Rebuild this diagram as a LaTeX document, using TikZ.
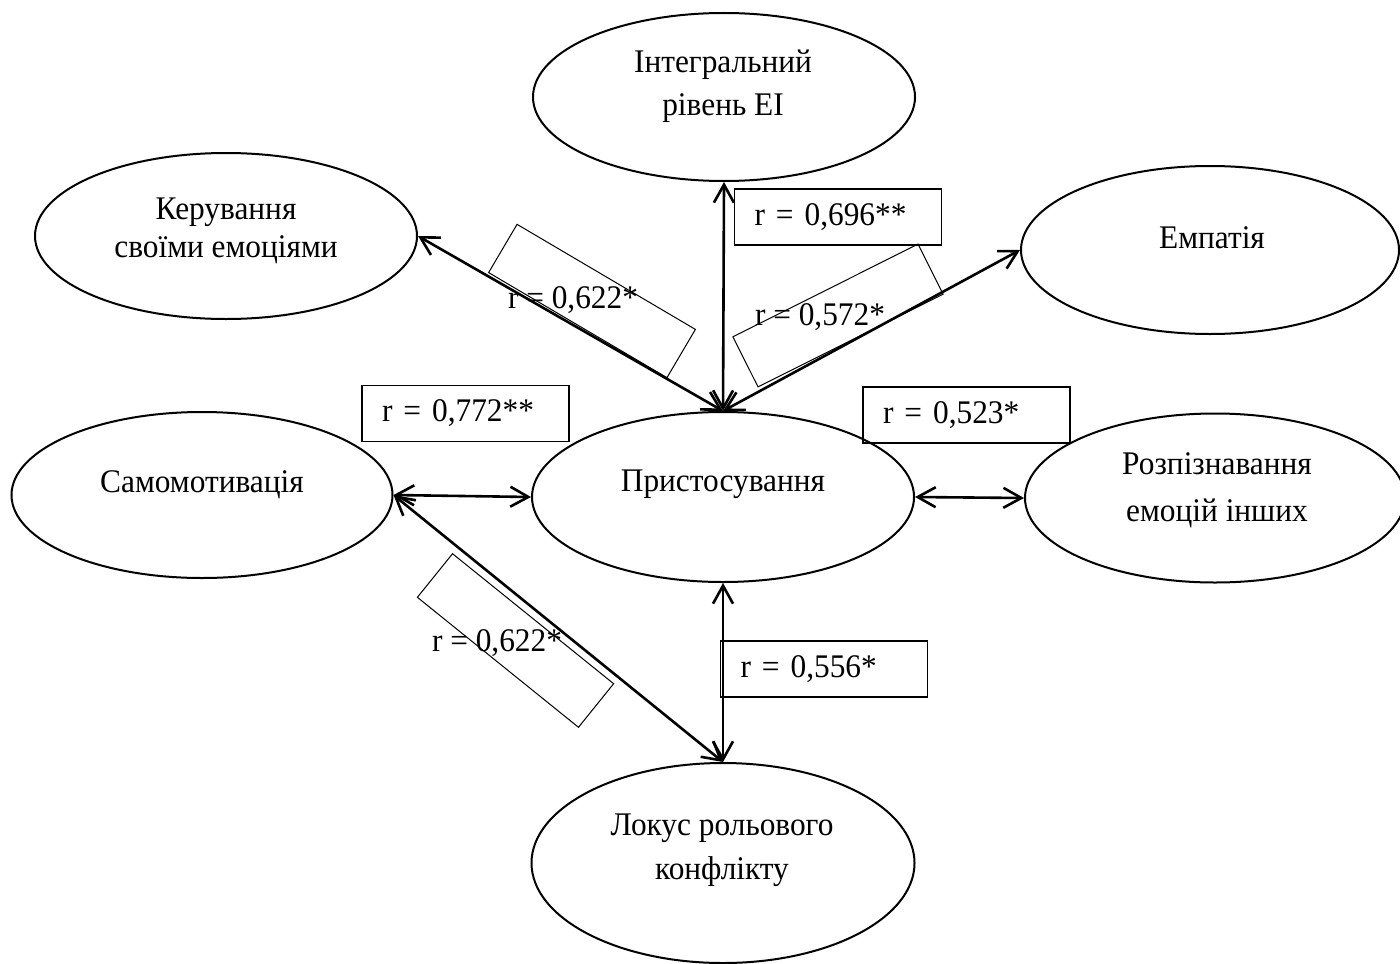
\documentclass[tikz,border=0pt]{standalone}
\usepackage{fontspec}
\setmainfont{Liberation Serif}[FakeStretch=0.95]
\usetikzlibrary{shapes.geometric,arrows.meta}
\begin{document}
\begin{tikzpicture}[x=0.5pt,y=-0.5pt,
  ell/.style={draw, ellipse, line width=1pt, inner sep=0pt},
  txt/.style={align=center, inner sep=0pt},
  rbox/.style={draw, line width=0.65pt, minimum width=103.5pt, minimum height=28pt,
    text width=83.5pt, align=left, inner xsep=10pt, inner ysep=0pt},
  tbox/.style={draw, line width=0.5pt, minimum width=103.5pt, minimum height=28pt, inner sep=0pt},
  conn/.style={line width=1.3pt, {Straight Barb[length=9pt,width=10pt]}-{Straight Barb[length=9pt,width=10pt]}},
  lbl/.style={inner sep=0pt},
  every node/.append style={font=\fontsize{16.5}{21.5}\selectfont}
]
\useasboundingbox (0,0) rectangle (1400,963);

% ellipses
\node[ell, minimum width=191pt, minimum height=84pt] (eint) at (724,97) {};
\node[ell, minimum width=191pt, minimum height=83pt] (eker) at (226,236) {};
\node[ell, minimum width=189pt, minimum height=84pt] (eemp) at (1210,250) {};
\node[ell, minimum width=190.5pt, minimum height=83pt] (esam) at (202,495) {};
\node[ell, minimum width=191pt, minimum height=85pt] (epri) at (723,497) {};
\node[ell, minimum width=190pt, minimum height=84.5pt] (eroz) at (1215,498) {};
\node[ell, minimum width=191.5pt, minimum height=100pt] (elok) at (723,863) {};

% ellipse texts
\node[txt, font=\fontsize{16.5}{21.5}\selectfont] (tint) at (723,86) {Інтегральний\\рівень ЕІ};
\node[txt, font=\fontsize{16.5}{18.7}\selectfont] (tker) at (226,231) {Керування\\своїми емоціями};
\node[txt] (temp) at (1212,238) {Емпатія};
\node[txt] (tsam) at (202,485) {Самомотивація};
\node[txt] (tpri) at (723,484) {Пристосування};
\node[txt, font=\fontsize{16.5}{23.5}\selectfont] (troz) at (1217,490) {Розпізнавання\\емоцій інших};
\node[txt, font=\fontsize{16.5}{22}\selectfont] (tlok) at (722,850) {Локус рольового\\конфлікту};

% coefficient boxes
\node[rbox] (b696) at (838,217) {r = 0,696**};
\node[rbox] (b772) at (465.5,413.5) {r = 0,772**};
\node[rbox] (b523) at (966.5,415) {r = 0,523*};
\node[rbox] (b556) at (824,669) {r = 0,556*};

% rotated boxes
\node[tbox, rotate=-30.5] (bx1) at (592,301) {};
\node[tbox, rotate=26.6] (bx2) at (838,315.5) {};
\node[tbox, rotate=-38.9] (bx3) at (515.5,640.5) {};
\node[lbl] (t1) at (573,300) {r = 0,622*};
\node[lbl] (t2) at (820,317) {r = 0,572*};
\node[lbl] (t3) at (497,643) {r = 0,622*};

% connectors
\draw[conn] (eint.south) -- (epri.north);
\draw[conn] (eker.east) -- (epri.north);
\draw[conn] (eemp.west) -- (epri.north);
\draw[conn] (esam.east) -- (epri.west);
\draw[conn] (epri.east) -- (eroz.west);
\draw[conn] (epri.south) -- (elok.north);
\draw[conn] (esam.east) -- (elok.north);
\end{tikzpicture}
\end{document}
